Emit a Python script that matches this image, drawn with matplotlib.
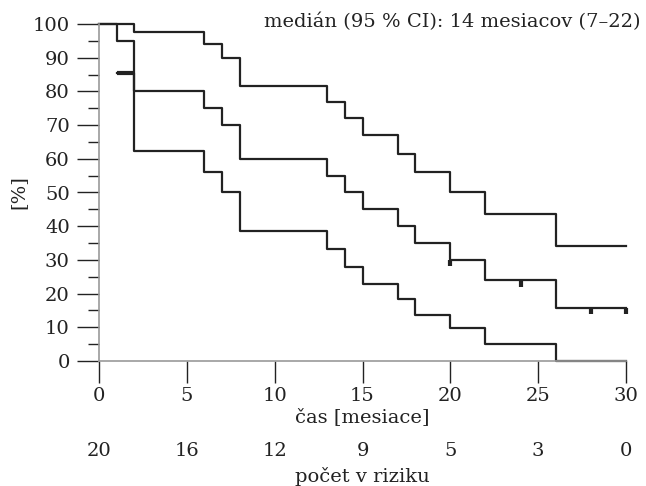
import matplotlib
matplotlib.use("Agg")
import matplotlib.pyplot as plt
import matplotlib.transforms as mtransforms
import numpy as np

# ---- data ----
upper_t = [0, 2, 6, 7, 8, 13, 14, 15, 17, 18, 20, 22, 26, 30]
upper_v = [100, 97.5, 94, 90, 81.6, 77, 72, 67, 61.5, 56.2, 50, 43.5, 34.2, 34.2]

est_t = [0, 1, 2, 6, 7, 8, 13, 14, 15, 17, 18, 20, 22, 26, 30]
est_v = [100, 95, 80, 75, 70, 60, 55, 50, 45, 40, 35, 30, 24, 15.8, 15.8]

lower_t = [1, 2, 6, 7, 8, 13, 14, 15, 17, 18, 20, 22, 26, 30]
lower_v = [85.5, 62.2, 56, 50, 38.6, 33.1, 27.8, 22.8, 18.4, 13.6, 9.9, 5, 0, 0]

censor_t = [20, 24, 28, 30]

risk_times = [0, 5, 10, 15, 20, 25, 30]
risk_counts = [20, 16, 12, 9, 5, 3, 0]

yticks = [0, 10, 20, 30, 40, 50, 60, 70, 80, 90, 100]
xticks = [0, 5, 10, 15, 20, 25, 30]

annot = "medián (95 % CI): 14 mesiacov (7–22)"

plt.rcParams['font.family'] = ['DejaVu Serif']
FS = 14
LC = '#222222'
SC = '#9a9a9a'

fig = plt.figure(figsize=(6.46, 4.86), dpi=100)
ax = fig.add_axes([99/646, 1-361/486, (626-99)/646, (361-24)/486])

ax.step(upper_t, upper_v, where='post', color=LC, lw=1.6, clip_on=False)
ax.step(est_t, est_v, where='post', color=LC, lw=1.6, clip_on=False)
ax.step(lower_t, lower_v, where='post', color=LC, lw=1.6, clip_on=False)
# thicker first segment of lower bound
ax.plot(lower_t[:2], [lower_v[0], lower_v[0]], color=LC, lw=3, solid_capstyle='butt')

# censor marks hanging below the estimate curve
def est_at(t):
    idx = np.searchsorted(est_t, t, side='right') - 1
    return est_v[idx]
for ct in censor_t:
    yv = est_at(ct)
    ax.vlines(ct, yv - 1.9, yv, color=LC, lw=3, clip_on=False)

ax.set_xlim(0, 30)
ax.set_ylim(0, 100)
for s in ['top', 'right']:
    ax.spines[s].set_visible(False)
for s in ['left', 'bottom']:
    ax.spines[s].set_color(SC)
    ax.spines[s].set_linewidth(1.2)

ax.set_yticks(yticks)
ax.set_yticks([5, 15, 25, 35, 45, 55, 65, 75, 85, 95], minor=True)
ax.set_xticks(xticks)
ax.tick_params(axis='both', which='major', direction='out', length=16, width=1.0,
               color=LC, labelsize=FS, labelcolor=LC, pad=5)
ax.tick_params(axis='y', which='minor', direction='out', length=8, width=1.0, color=LC)
ax.tick_params(axis='x', pad=3)

ax.set_ylabel('[%]', fontsize=FS, color=LC, labelpad=4)
ax.set_xlabel('čas [mesiace]', fontsize=FS, color=LC, labelpad=2)

trans = mtransforms.blended_transform_factory(ax.transData, fig.transFigure)
for t, c in zip(risk_times, risk_counts):
    ax.text(t, 1-451/486, str(c), transform=trans, ha='center', va='center',
            fontsize=FS, color=LC)
ax.text(15, 1-476/486, 'počet v riziku', transform=trans, ha='center', va='center',
        fontsize=FS, color=LC)

fig.text(641/646, 1-22/486, annot, ha='right', va='center', fontsize=FS, color=LC)

fig.savefig('out.png', dpi=100)
